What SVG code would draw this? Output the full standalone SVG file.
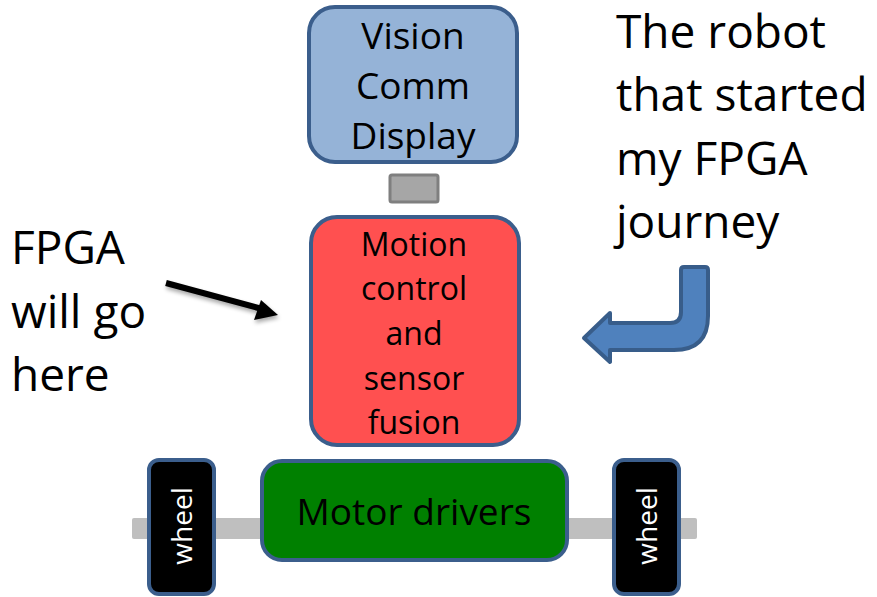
<svg xmlns="http://www.w3.org/2000/svg" width="877" height="597" viewBox="0 0 877 597">
  <defs>
    <style>
      .box { stroke: #3b5e8c; stroke-width: 4; }
      .lbl { font-family: "Open Sans", "Liberation Sans", sans-serif; fill: #000; text-anchor: middle; }
      .big { font-family: "Open Sans", "Liberation Sans", sans-serif; fill: #000; font-size: 46px; }
      .wheel-txt { font-family: "Open Sans", "Liberation Sans", sans-serif; fill: #fff; font-size: 28px; text-anchor: middle; }
    </style>
    <filter id="soft" x="-20%" y="-50%" width="140%" height="200%">
      <feGaussianBlur in="SourceAlpha" stdDeviation="2"/>
      <feOffset dx="1" dy="3" result="b"/>
      <feComponentTransfer><feFuncA type="linear" slope="0.35"/></feComponentTransfer>
      <feMerge><feMergeNode/><feMergeNode in="SourceGraphic"/></feMerge>
    </filter>
  </defs>

  <rect width="877" height="597" fill="#fff"/>

  <!-- axle behind drive train -->
  <g id="axle">
    <rect x="132" y="518" width="565" height="21" rx="2" fill="#bfbfbf"/>
  </g>

  <g id="vision">
    <rect class="box" x="309" y="7" width="208" height="155" rx="26" fill="#95b3d7"/>
    <text class="lbl" x="413" y="49" font-size="37">Vision</text>
    <text class="lbl" x="413" y="99" font-size="37">Comm</text>
    <text class="lbl" x="413" y="149" font-size="37">Display</text>
  </g>

  <g id="link">
    <rect x="390" y="175" width="48" height="27" rx="2" fill="#a6a6a6" stroke="#7f7f7f" stroke-width="3"/>
  </g>

  <g id="motion">
    <rect class="box" x="311" y="217" width="208" height="228" rx="26" fill="#ff5050"/>
    <text class="lbl" x="414" y="256" font-size="32">Motion</text>
    <text class="lbl" x="414" y="300" font-size="32">control</text>
    <text class="lbl" x="414" y="345" font-size="32">and</text>
    <text class="lbl" x="414" y="390" font-size="32">sensor</text>
    <text class="lbl" x="414" y="434" font-size="32">fusion</text>
  </g>

  <g id="motor-drivers">
    <rect class="box" x="262" y="461" width="305" height="99" rx="20" fill="#008000"/>
    <text class="lbl" x="414" y="525" font-size="37">Motor drivers</text>
  </g>

  <g id="wheel-left">
    <rect class="box" x="149" y="460" width="65" height="134" rx="10" fill="#000"/>
    <text class="wheel-txt" transform="translate(192 526) rotate(-90)">wheel</text>
  </g>

  <g id="wheel-right">
    <rect class="box" x="614" y="460" width="65" height="134" rx="10" fill="#000"/>
    <text class="wheel-txt" transform="translate(657 526) rotate(-90)">wheel</text>
  </g>

  <g id="caption-right">
    <text class="big" x="616" y="48" font-size="45">The robot</text>
    <text class="big" x="616" y="111" font-size="45">that started</text>
    <text class="big" x="616" y="175" font-size="45">my FPGA</text>
    <text class="big" x="616" y="238" font-size="45">journey</text>
  </g>

  <g id="caption-left">
    <text class="big" x="11" y="264">FPGA</text>
    <text class="big" x="11" y="328">will go</text>
    <text class="big" x="11" y="391">here</text>
  </g>

  <g id="connectors">
    <!-- bent block arrow pointing at the motion board -->
    <path d="M610 313 L584 338 L610 362 L610 350 L674 350 Q708 350 708 316 L708 270 Q708 267 705 267 L684 267 Q681 267 681 270 L681 312 Q681 323 670 323 L610 323 Z"
          fill="#4f81bd" stroke="#385d8a" stroke-width="4" stroke-linejoin="round"/>
    <!-- pointer from the left caption -->
    <g filter="url(#soft)">
      <line x1="166" y1="283" x2="262" y2="309" stroke="#000" stroke-width="6"/>
      <polygon points="278,315 254,320 261,300" fill="#000"/>
    </g>
  </g>
</svg>
